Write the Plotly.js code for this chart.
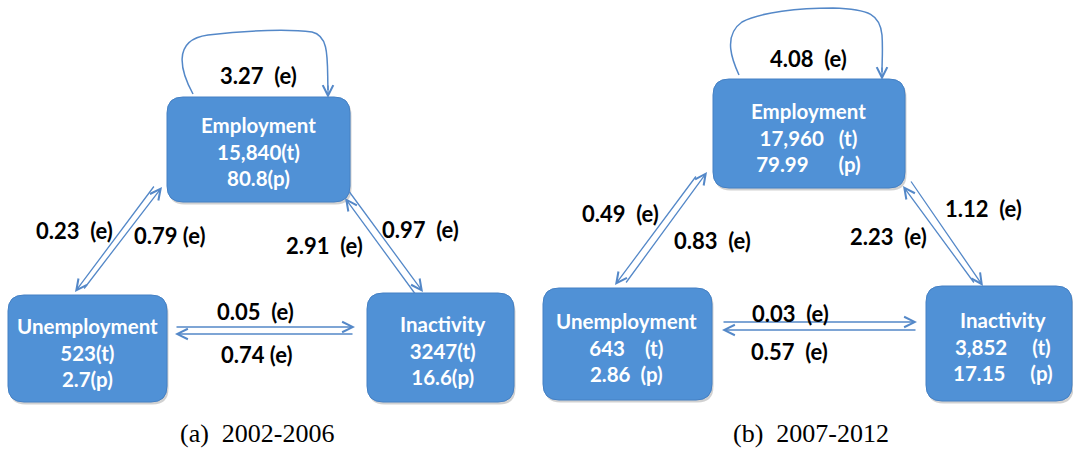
<!DOCTYPE html>
<html>
<head>
<meta charset="utf-8">
<script src="https://cdn.plot.ly/plotly-3.0.1.min.js"></script>
<style>html,body{margin:0;padding:0;background:#fff;}#chart{width:1073px;height:450px;}</style>
</head>
<body>
<div id="chart"></div>
<script>
// ---------------- data ----------------
const states = ['Employment', 'Unemployment', 'Inactivity'];
const periods = ['(a) 2002-2006', '(b) 2007-2012'];
const totalsA = ['15,840', '523', '3247'];
const percentsA = ['80.8', '2.7', '16.6'];
const totalsB = ['17,960', '643', '3,852'];
const percentsB = ['79.99', '2.86', '17.15'];
// transitions: E->E, E->U, U->E, I->E, E->I, U->I, I->U
const transitions = ['EE', 'EU', 'UE', 'IE', 'EI', 'UI', 'IU'];
const ratesA = [3.27, 0.23, 0.79, 2.91, 0.97, 0.05, 0.74];
const ratesB = [4.08, 0.49, 0.83, 2.23, 1.12, 0.03, 0.57];

// ---------------- geometry / style ----------------
const BOX = 'rgb(80,145,214)';
const BOXLINE = 'rgb(68,128,196)';
const ARROW = 'rgb(84,136,200)';
const panels = [
  {
    totals: totalsA, percents: percentsA, rates: ratesA, caption: periods[0],
    capPos: [257, 433],
    sepT: ['', '', ''], sepP: ['', '', ''],
    boxes: [[167, 97, 350, 202], [8, 295, 167, 402], [367, 293, 514, 402]],
    textPos: [[258, 151], [87, 352], [443, 350]],
    loop: 'M193,94 C182,74 170,40 208,35 C250,30 290,29 312,32 C330,36 327,60 328,90',
    arrows: { EE: [328, 84, 328, 98], EU: [155, 185, 75, 292], UE: [83, 290, 162, 187],
              IE: [416, 295, 345, 198], EI: [348, 190, 423, 292], UI: [175, 327, 355, 327], IU: [354, 334, 175, 334] },
    labels: { EE: [258, 75], EU: [74, 230], UE: [170, 235], IE: [324, 245], EI: [420, 229], UI: [255, 311], IU: [257, 354] },
    gap: { EE: '  ', EU: '  ', UE: ' ', IE: '  ', EI: '  ', UI: '  ', IU: ' ' }
  },
  {
    totals: totalsB, percents: percentsB, rates: ratesB, caption: periods[1],
    capPos: [811, 433],
    sepT: ['&nbsp;&nbsp;&nbsp;', '&nbsp;&nbsp;&nbsp;&nbsp;', '&nbsp;&nbsp;&nbsp;&nbsp;&nbsp;'],
    sepP: ['&nbsp;&nbsp;&nbsp;&nbsp;&nbsp;&nbsp;', '&nbsp;&nbsp;', '&nbsp;&nbsp;&nbsp;&nbsp;&nbsp;'],
    boxes: [[713, 79, 905, 188], [543, 288, 712, 400], [926, 286, 1072, 401]],
    textPos: [[808, 137], [626, 347], [1003, 346]],
    loop: 'M739,75 C733,62 722,36 742,22 C760,12 800,8 833,8 C870,9 880,15 882,35 C883,50 882,60 882,72',
    arrows: { EE: [882, 66, 882, 80], EU: [697, 175, 615, 285], UE: [625, 284, 707, 172],
              IE: [975, 284, 903, 186], EI: [910, 180, 983, 286], UI: [722, 322, 917, 322], IU: [917, 330, 722, 330] },
    labels: { EE: [808, 58], EU: [620, 213], UE: [712, 240], IE: [888, 236], EI: [983, 208], UI: [790, 313], IU: [789, 351] },
    gap: { EE: '  ', EU: '  ', UE: '  ', IE: '  ', EI: '  ', UI: '  ', IU: '  ' }
  }
];

function rr(b, r) {
  const [x0, y0, x1, y1] = b;
  return `M${x0 + r},${y0} L${x1 - r},${y0} Q${x1},${y0} ${x1},${y0 + r} L${x1},${y1 - r} Q${x1},${y1} ${x1 - r},${y1} ` +
         `L${x0 + r},${y1} Q${x0},${y1} ${x0},${y1 - r} L${x0},${y0 + r} Q${x0},${y0} ${x0 + r},${y0} Z`;
}

const shapes = [];
const annotations = [];
const SANS = 'Lato, Carlito, "Open Sans", sans-serif';

panels.forEach(p => {
  // boxes
  p.boxes.forEach((b, i) => {
    shapes.push({ type: 'path', xref: 'x', yref: 'y', path: rr([b[0] + 1.5, b[1] + 2.5, b[2] + 1.5, b[3] + 2.5], 16),
      fillcolor: 'rgba(0,0,0,0.18)', line: { width: 0 }, layer: 'below' });
    shapes.push({ type: 'path', xref: 'x', yref: 'y', path: rr(b, 16),
      fillcolor: BOX, line: { color: BOXLINE, width: 1 }, layer: 'below' });
    annotations.push({
      x: p.textPos[i][0], y: p.textPos[i][1], xref: 'x', yref: 'y', showarrow: false,
      text: `<b>${states[i]}<br>${p.totals[i]}${p.sepT[i]}(t)<br>${p.percents[i]}${p.sepP[i]}(p)</b>`,
      font: { family: SANS, size: 20.5, color: '#ffffff' }, align: 'center', xanchor: 'center', yanchor: 'middle'
    });
  });
  // loop
  shapes.push({ type: 'path', xref: 'x', yref: 'y', path: p.loop, line: { color: ARROW, width: 1.5 } });
  // arrows and labels
  transitions.forEach((t, k) => {
    const a = p.arrows[t];
    annotations.push({
      x: a[2], y: a[3], ax: a[0], ay: a[1], xref: 'x', yref: 'y', axref: 'x', ayref: 'y',
      text: '', showarrow: true, arrowhead: 5, arrowsize: 1.6, arrowwidth: 1.3, arrowcolor: ARROW, standoff: 0
    });
    const l = p.labels[t];
    annotations.push({
      x: l[0], y: l[1], xref: 'x', yref: 'y', showarrow: false,
      text: `<b>${p.rates[k].toFixed(2)}${p.gap[t].replace(/ /g, '&nbsp;')}(e)</b>`,
      font: { family: SANS, size: 22, color: '#000000' }, xanchor: 'center', yanchor: 'middle'
    });
  });
  annotations.push({
    x: p.capPos[0], y: p.capPos[1], xref: 'x', yref: 'y', showarrow: false,
    text: p.caption.replace(') ', ')&nbsp;&nbsp;'),
    font: { family: '"Liberation Serif", "DejaVu Serif", serif', size: 26, color: '#000000' },
    xanchor: 'center', yanchor: 'middle'
  });
});

const layout = {
  width: 1073, height: 450,
  margin: { l: 0, r: 0, t: 0, b: 0 },
  paper_bgcolor: '#ffffff', plot_bgcolor: '#ffffff',
  xaxis: { range: [0, 1073], visible: false, fixedrange: true },
  yaxis: { range: [450, 0], visible: false, fixedrange: true },
  showlegend: false,
  shapes: shapes,
  annotations: annotations
};

Plotly.newPlot('chart', [{ x: [], y: [], type: 'scatter', mode: 'markers', hoverinfo: 'skip' }], layout,
  { staticPlot: true, displayModeBar: false });
</script>
</body>
</html>
